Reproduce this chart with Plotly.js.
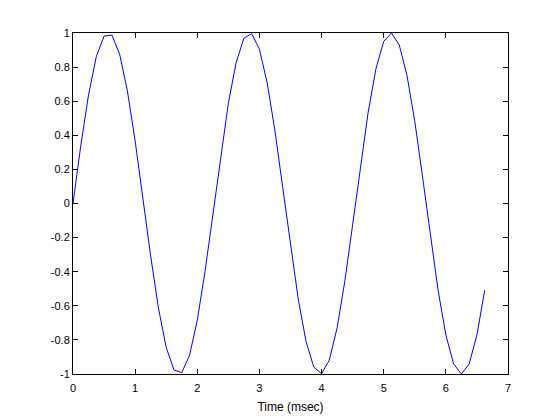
<!DOCTYPE html>
<html>
<head>
<meta charset="utf-8">
<script src="https://cdn.plot.ly/plotly-3.0.1.min.js"></script>
<style>html,body{margin:0;padding:0;background:#fff;}#plot{width:560px;height:420px;}</style>
</head>
<body>
<div id="plot"></div>
<script>
// Time in msec (sample spacing 0.125 ms)
var timeMs = [0, 0.125, 0.25, 0.375, 0.5, 0.625, 0.75, 0.875, 1, 1.125,
  1.25, 1.375, 1.5, 1.625, 1.75, 1.875, 2, 2.125, 2.25, 2.375,
  2.5, 2.625, 2.75, 2.875, 3, 3.125, 3.25, 3.375, 3.5, 3.625,
  3.75, 3.875, 4, 4.125, 4.25, 4.375, 4.5, 4.625, 4.75, 4.875,
  5, 5.125, 5.25, 5.375, 5.5, 5.625, 5.75, 5.875, 6, 6.125,
  6.25, 6.375, 6.5, 6.625];
// Signal amplitude
var amplitude = [0, 0.339, 0.637, 0.861, 0.982, 0.988, 0.876, 0.661, 0.368, 0.031,
  -0.309, -0.613, -0.844, -0.976, -0.992, -0.891, -0.685, -0.397, -0.063, 0.279,
  0.588, 0.827, 0.969, 0.996, 0.905, 0.707, 0.426, 0.094, -0.249, -0.562,
  -0.809, -0.960, -0.998, -0.918, -0.729, -0.454, -0.125, 0.218, 0.536, 0.790,
  0.951, 1.000, 0.930, 0.750, 0.482, 0.156, -0.187, -0.509, -0.771, -0.941,
  -1.000, -0.941, -0.771, -0.509];
var xTicks = [0, 1, 2, 3, 4, 5, 6, 7];
var yTicks = [-1, -0.8, -0.6, -0.4, -0.2, 0, 0.2, 0.4, 0.6, 0.8, 1];
var yTickText = ['-1', '-0.8', '-0.6', '-0.4', '-0.2', '0', '0.2', '0.4', '0.6', '0.8', '1'];

var FONT = 'Liberation Sans, Arial, sans-serif';
var trace = {
  x: timeMs, y: amplitude, type: 'scatter', mode: 'lines',
  line: {color: '#0000ff', width: 1}, hoverinfo: 'none'
};
var axisCommon = {
  showgrid: false, zeroline: false, showline: true, mirror: 'allticks',
  linecolor: '#000', linewidth: 1, ticks: 'inside', ticklen: 5, tickwidth: 1,
  tickcolor: '#000', tickfont: {family: FONT, size: 11, color: '#000'}
};
var layout = {
  width: 560, height: 420,
  margin: {l: 73, r: 52, t: 33, b: 46, pad: 0},
  paper_bgcolor: '#fff', plot_bgcolor: '#fff',
  showlegend: false,
  xaxis: Object.assign({}, axisCommon, {
    range: [0, 7], tickmode: 'array', tickvals: xTicks, ticktext: xTicks.map(String),
    ticklabelstandoff: 4,
    title: {text: 'Time (msec)', font: {family: FONT, size: 12, color: '#000'}, standoff: 9}
  }),
  yaxis: Object.assign({}, axisCommon, {
    range: [-1, 1], tickmode: 'array', tickvals: yTicks, ticktext: yTickText
  })
};
Plotly.newPlot('plot', [trace], layout, {staticPlot: true, displayModeBar: false});
</script>
</body>
</html>
